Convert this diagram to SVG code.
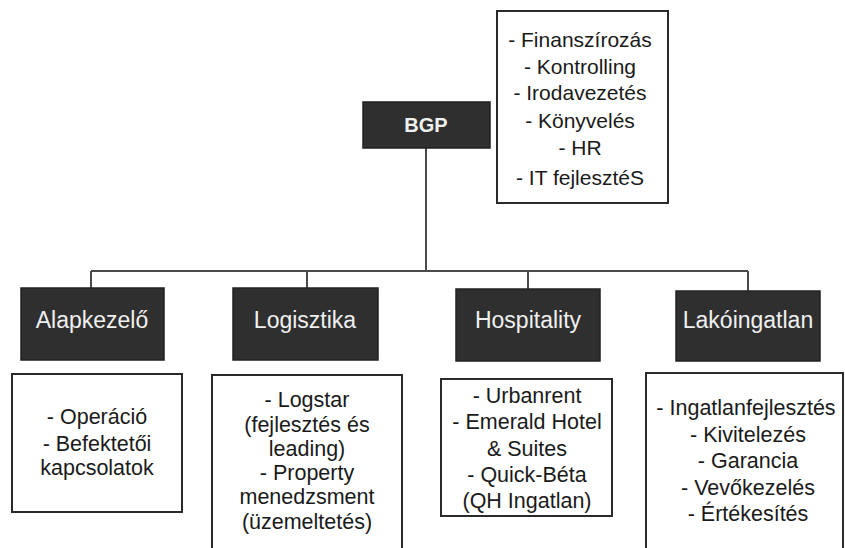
<svg xmlns="http://www.w3.org/2000/svg" width="845" height="548" viewBox="0 0 845 548">
<style>
.dark{fill:#2f2f2f;stroke:#222;stroke-width:1.5}
.box{fill:#fff;stroke:#2a2a2a;stroke-width:2}
.cat{font-family:"Liberation Sans",Arial,sans-serif;font-size:23px;fill:#f0f0f0;text-anchor:middle}
.txt{font-family:"Liberation Sans",Arial,sans-serif;font-size:21.5px;fill:#1a1a1a;text-anchor:middle}
.top{font-family:"Liberation Sans",Arial,sans-serif;font-size:21px;fill:#1a1a1a;text-anchor:middle}
.conn{stroke:#4a4a4a;stroke-width:2;fill:none}
</style>
<rect width="845" height="548" fill="#fff"/>
<g id="connectors">
<path class="conn" d="M426 148 V271 M91 271 H748 M91 271 V288 M307 271 V288 M528 271 V289 M748 271 V291"/>
</g>
<g id="bgp">
<rect class="dark" x="363" y="102" width="127" height="46"/>
<text x="426" y="132" font-family="Liberation Sans,Arial,sans-serif" font-size="20" font-weight="bold" fill="#f0f0f0" text-anchor="middle">BGP</text>
</g>
<g id="bgp-functions">
<rect class="box" x="497" y="11" width="171" height="192"/>
<text class="top" x="580" y="47">- Finanszírozás</text>
<text class="top" x="580" y="74">- Kontrolling</text>
<text class="top" x="580" y="100">- Irodavezetés</text>
<text class="top" x="580" y="128">- Könyvelés</text>
<text class="top" x="580" y="155">- HR</text>
<text class="top" x="580" y="185">- IT fejlesztéS</text>
</g>
<g id="alapkezelo">
<rect class="dark" x="21" y="288" width="143" height="72"/>
<text class="cat" x="92" y="328">Alapkezelő</text>
</g>
<g id="logisztika">
<rect class="dark" x="233" y="288" width="145" height="72"/>
<text class="cat" x="305" y="328">Logisztika</text>
</g>
<g id="hospitality">
<rect class="dark" x="456" y="289" width="144" height="72"/>
<text class="cat" x="528" y="328">Hospitality</text>
</g>
<g id="lakoingatlan">
<rect class="dark" x="676" y="291" width="144" height="70"/>
<text class="cat" x="748" y="328">Lakóingatlan</text>
</g>
<g id="alapkezelo-details">
<rect class="box" x="12" y="374" width="170" height="138"/>
<text class="txt" x="97" y="424">- Operáció</text>
<text class="txt" x="97" y="451">- Befektetői</text>
<text class="txt" x="97" y="475">kapcsolatok</text>
</g>
<g id="logisztika-details">
<rect class="box" x="212" y="375" width="190" height="190"/>
<text class="txt" x="307" y="407">- Logstar</text>
<text class="txt" x="307" y="432">(fejlesztés és</text>
<text class="txt" x="307" y="456">leading)</text>
<text class="txt" x="307" y="480">- Property</text>
<text class="txt" x="307" y="504">menedzsment</text>
<text class="txt" x="307" y="529">(üzemeltetés)</text>
</g>
<g id="hospitality-details">
<rect class="box" x="441" y="379" width="171" height="137"/>
<text class="txt" x="527" y="403">- Urbanrent</text>
<text class="txt" x="527" y="429">- Emerald Hotel</text>
<text class="txt" x="527" y="456">&amp; Suites</text>
<text class="txt" x="527" y="482">- Quick-Béta</text>
<text class="txt" x="527" y="508">(QH Ingatlan)</text>
</g>
<g id="lakoingatlan-details">
<rect class="box" x="646" y="373" width="197" height="190"/>
<text class="txt" x="746" y="415">- Ingatlanfejlesztés</text>
<text class="txt" x="748" y="442">- Kivitelezés</text>
<text class="txt" x="748" y="468">- Garancia</text>
<text class="txt" x="748" y="495">- Vevőkezelés</text>
<text class="txt" x="748" y="521">- Értékesítés</text>
</g>
</svg>
